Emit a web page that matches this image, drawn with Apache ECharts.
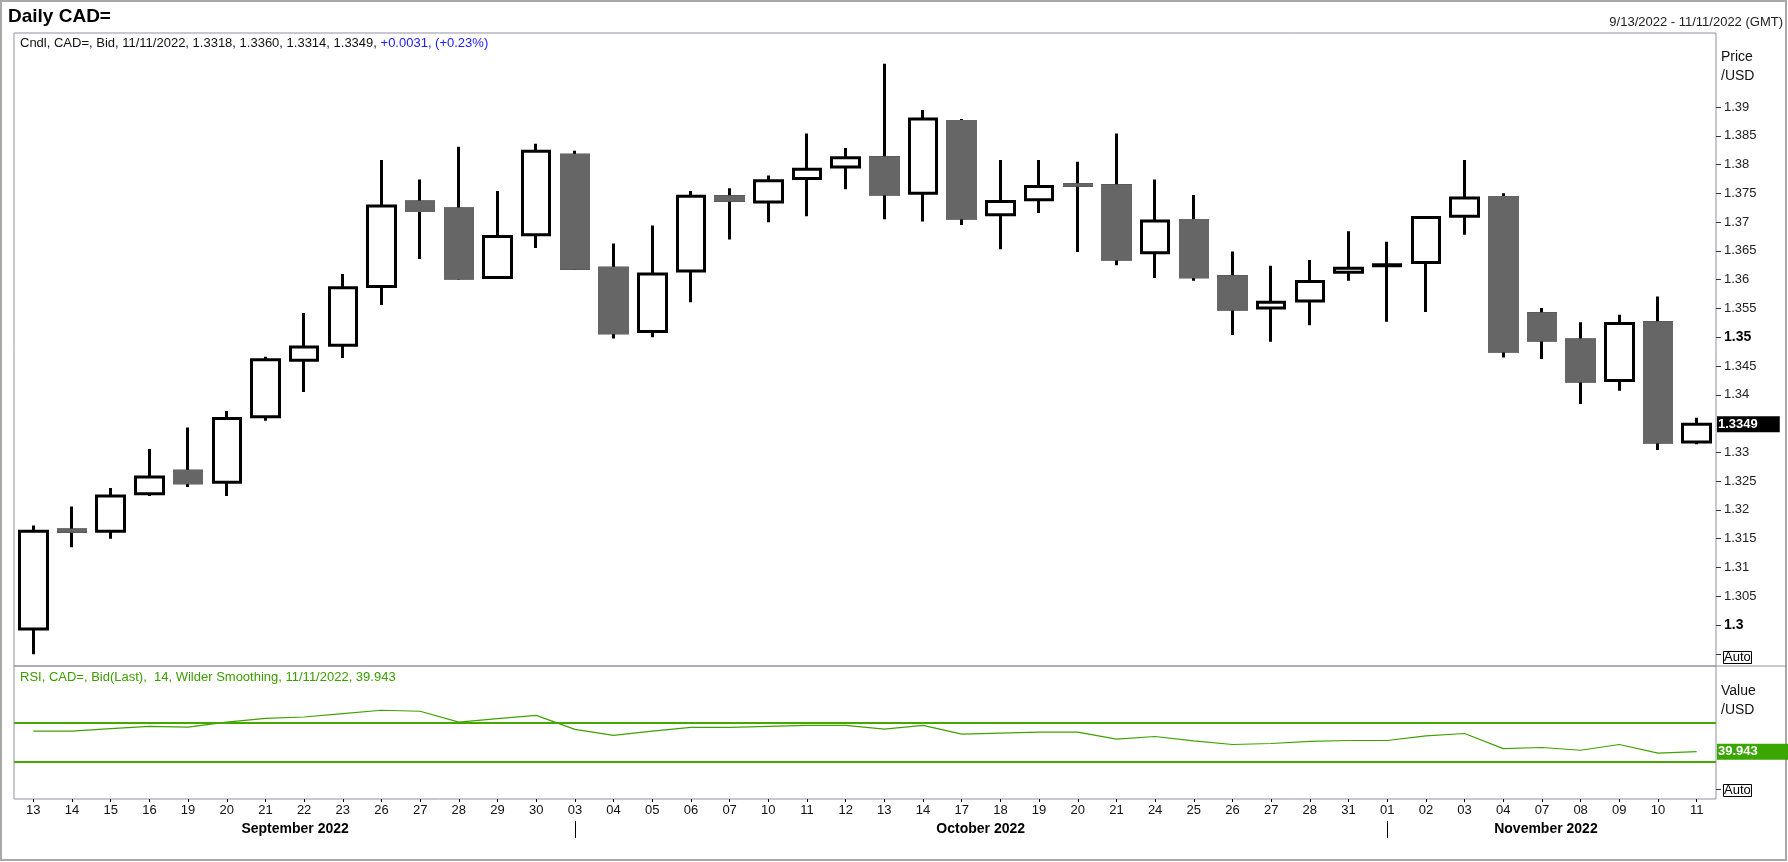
<!DOCTYPE html>
<html>
<head>
<meta charset="utf-8">
<script src="https://cdn.jsdelivr.net/npm/echarts@6/dist/echarts.min.js"></script>
<style>
html,body{margin:0;padding:0;background:#fff;}
#chart{width:1788px;height:862px;}
</style>
</head>
<body>
<div id="chart"></div>
<script>
const dates = ['2022-09-13','2022-09-14','2022-09-15','2022-09-16','2022-09-19','2022-09-20','2022-09-21','2022-09-22','2022-09-23','2022-09-26','2022-09-27','2022-09-28','2022-09-29','2022-09-30',
  '2022-10-03','2022-10-04','2022-10-05','2022-10-06','2022-10-07','2022-10-10','2022-10-11','2022-10-12','2022-10-13','2022-10-14','2022-10-17','2022-10-18','2022-10-19','2022-10-20','2022-10-21','2022-10-24','2022-10-25','2022-10-26','2022-10-27','2022-10-28','2022-10-31',
  '2022-11-01','2022-11-02','2022-11-03','2022-11-04','2022-11-07','2022-11-08','2022-11-09','2022-11-10','2022-11-11'];
const opens  = [1.2993,1.3165,1.3163,1.3228,1.3267,1.3248,1.3362,1.3460,1.3486,1.3588,1.3735,1.3723,1.3604,1.3678,
  1.3816,1.3620,1.3510,1.3615,1.3744,1.3735,1.3776,1.3796,1.3812,1.3750,1.3875,1.3713,1.3739,1.3765,1.3763,1.3647,1.3703,1.3605,1.3551,1.3563,1.3613,
  1.3624,1.3630,1.3710,1.3743,1.3541,1.3495,1.3425,1.3525,1.3318];
const highs  = [1.3173,1.3206,1.3238,1.3306,1.3343,1.3372,1.3466,1.3542,1.3610,1.3808,1.3774,1.3831,1.3754,1.3836,
  1.3824,1.3663,1.3694,1.3754,1.3759,1.3781,1.3854,1.3829,1.3975,1.3895,1.3879,1.3808,1.3808,1.3805,1.3854,1.3774,1.3747,1.3649,1.3624,1.3634,1.3684,
  1.3666,1.3710,1.3808,1.3750,1.3551,1.3526,1.3539,1.3571,1.3360];
const lows   = [1.2949,1.3135,1.3150,1.3224,1.3240,1.3224,1.3355,1.3405,1.3464,1.3556,1.3636,1.3600,1.3602,1.3655,
  1.3617,1.3498,1.3500,1.3561,1.3670,1.3700,1.3710,1.3757,1.3705,1.3701,1.3695,1.3653,1.3716,1.3648,1.3625,1.3603,1.3598,1.3504,1.3492,1.3521,1.3598,
  1.3527,1.3544,1.3678,1.3465,1.3462,1.3384,1.3407,1.3304,1.3314];
const closes = [1.3163,1.3163,1.3224,1.3257,1.3247,1.3359,1.3461,1.3483,1.3586,1.3728,1.3720,1.3603,1.3675,1.3823,
  1.3620,1.3508,1.3610,1.3745,1.3738,1.3772,1.3792,1.3812,1.3749,1.3879,1.3707,1.3736,1.3762,1.3764,1.3636,1.3702,1.3605,1.3549,1.3561,1.3597,1.3620,
  1.3626,1.3708,1.3742,1.3476,1.3495,1.3424,1.3524,1.3318,1.3349];
const rsiValues = [61.0,61.0,63.5,65.9,65.2,70.3,74.1,75.5,79.0,82.4,81.4,70.3,73.8,77.2,
  62.8,56.6,61.0,64.8,64.8,65.9,66.9,66.9,63.1,66.9,57.9,59.0,60.0,60.0,52.8,55.5,51.1,47.3,48.3,50.4,51.4,
  51.4,56.2,58.6,43.1,44.2,41.4,47.3,38.4,39.943];
const priceTicks = [1.3,1.305,1.31,1.315,1.32,1.325,1.33,1.34,1.345,1.35,1.355,1.36,1.365,1.37,1.375,1.38,1.385,1.39];
const rsiLevels = [70, 30];
const monthNames = ['September 2022','October 2022','November 2022'];
const monthLabelIdx = [7, 24, 39];

const n = dates.length;
const lastO = opens[n-1], lastH = highs[n-1], lastL = lows[n-1], lastC = closes[n-1];
const chg = lastC - closes[n-2];
const pct = chg / closes[n-2] * 100;
const fmtDate = d => d.slice(5,7).replace(/^0/,'') + '/' + d.slice(8) + '/' + d.slice(0,4);
const lastDate = fmtDate(dates[n-1]);
const firstDate = fmtDate(dates[0]);
const sign = v => (v >= 0 ? '+' : '');
const legendText = '{k|Cndl, CAD=, Bid, ' + lastDate + ', ' + lastO.toFixed(4) + ', ' + lastH.toFixed(4) + ', ' +
  lastL.toFixed(4) + ', ' + lastC.toFixed(4) + ', }{b|' + sign(chg) + chg.toFixed(4) + ', (' + sign(pct) + pct.toFixed(2) + '%)}';
const lastRsi = rsiValues[n-1];
const rsiText = 'RSI, CAD=, Bid(Last),  14, Wilder Smoothing, ' + lastDate + ', ' + lastRsi.toFixed(3);

const ohlc = dates.map((d, i) => [opens[i], closes[i], lows[i], highs[i]]);
const downBodies = [];
dates.forEach((d, i) => {
  if (closes[i] < opens[i]) downBodies.push([d, opens[i], closes[i], closes[i], opens[i]]);
});
const monthStart = dates.map((d, i) => i > 0 && d.slice(5,7) !== dates[i-1].slice(5,7));

const FONT = '"Liberation Sans", Arial, sans-serif';
const BORDER = '#9391a4';
const GREEN = '#3fa200';
const P_MIN = 1.29288, P_MAX = 1.40286;
const R_MIN = -8.6, R_MAX = 127.8;

const chart = echarts.init(document.getElementById('chart'), null, {renderer: 'canvas'});
chart.setOption({
  animation: false,
  backgroundColor: '#ffffff',
  textStyle: {fontFamily: FONT},
  title: [
    {text: 'Daily CAD=', left: 8, top: 6, padding: 0,
      textStyle: {fontSize: 19, lineHeight: 22, fontWeight: 'bold', color: '#000', fontFamily: FONT}},
    {text: firstDate + ' - ' + lastDate + ' (GMT)', right: 5, top: 14, padding: 0,
      textStyle: {fontSize: 13, lineHeight: 16, fontWeight: 'normal', color: '#222', fontFamily: FONT}},
    {text: legendText, left: 20, top: 35, padding: 0,
      textStyle: {fontSize: 13, lineHeight: 16, fontWeight: 'normal', fontFamily: FONT,
        rich: {k: {color: '#111', fontSize: 13, fontFamily: FONT}, b: {color: '#2020ff', fontSize: 13, fontFamily: FONT}}}},
    {text: rsiText, left: 20, top: 669, padding: 0,
      textStyle: {fontSize: 13, lineHeight: 16, fontWeight: 'normal', color: '#3c9d00', fontFamily: FONT}},
    {text: 'Price\n/USD', left: 1721, top: 48, padding: 0,
      textStyle: {fontSize: 14, lineHeight: 19, fontWeight: 'normal', color: '#111', fontFamily: FONT}},
    {text: 'Value\n/USD', left: 1721, top: 682, padding: 0,
      textStyle: {fontSize: 14, lineHeight: 19, fontWeight: 'normal', color: '#111', fontFamily: FONT}},
    {text: 'Auto', left: 1723, top: 651, padding: [0, 1], borderWidth: 1, borderColor: '#000',
      textStyle: {fontSize: 13, lineHeight: 13, fontWeight: 'normal', color: '#000', fontFamily: FONT}},
    {text: 'Auto', left: 1723, top: 784, padding: [0, 1], borderWidth: 1, borderColor: '#000',
      textStyle: {fontSize: 13, lineHeight: 13, fontWeight: 'normal', color: '#000', fontFamily: FONT}}
  ],
  graphic: [
    {type: 'rect', silent: true, shape: {x: 1, y: 1, width: 1785, height: 859},
      style: {fill: 'none', stroke: '#a8a8a8', lineWidth: 2}},
    {type: 'line', silent: true, shape: {x1: 1716, y1: 666, x2: 1787, y2: 666},
      style: {stroke: BORDER, lineWidth: 1}}
  ],
  grid: [
    {left: 14, right: 72, top: 33, height: 633, show: true, borderColor: BORDER, borderWidth: 1, outerBoundsMode: 'none'},
    {left: 14, right: 72, top: 666, height: 133, show: true, borderColor: BORDER, borderWidth: 1, outerBoundsMode: 'none'}
  ],
  xAxis: [
    {type: 'category', gridIndex: 0, data: dates, show: false, axisLine: {onZero: false}},
    {type: 'category', gridIndex: 1, data: dates, position: 'bottom',
      axisLine: {show: false, onZero: false}, splitLine: {show: false},
      axisTick: {show: true, inside: false, alignWithLabel: true, interval: 0, length: 3, lineStyle: {color: '#000', width: 1}},
      axisLabel: {interval: 0, margin: 5, fontSize: 13, color: '#111', fontFamily: FONT,
        formatter: v => v.slice(8)}},
    {type: 'category', gridIndex: 1, data: dates, position: 'bottom', offset: 22,
      axisLine: {show: false, onZero: false}, splitLine: {show: false},
      axisTick: {show: true, inside: false, alignWithLabel: true, length: 17, interval: (i) => monthStart[i],
        lineStyle: {color: '#000', width: 1}},
      axisLabel: {margin: 1, interval: (i) => monthLabelIdx.indexOf(i) >= 0,
        formatter: (v, i) => {
          const k = monthLabelIdx.indexOf(i);
          return k >= 0 ? '{m' + k + '|' + monthNames[k] + '}' : '';
        },
        rich: {
          m0: {fontSize: 14, fontWeight: 'bold', color: '#000', fontFamily: FONT, padding: [0, 18, 0, 0]},
          m1: {fontSize: 14, fontWeight: 'bold', color: '#000', fontFamily: FONT, padding: [0, 0, 0, 38]},
          m2: {fontSize: 14, fontWeight: 'bold', color: '#000', fontFamily: FONT, padding: [0, 0, 0, 8]}
        }}}
  ],
  yAxis: [
    {type: 'value', gridIndex: 0, position: 'right', min: P_MIN, max: P_MAX,
      splitLine: {show: false}, axisLine: {show: false, onZero: false},
      axisTick: {show: true, length: 5, lineStyle: {color: '#333'}, customValues: priceTicks.concat([1.295])},
      axisLabel: {customValues: priceTicks, margin: 8, fontSize: 13, color: '#222', fontFamily: FONT,
        formatter: v => {
          const s = String(parseFloat(v.toFixed(4)));
          return Math.abs(v * 20 - Math.round(v * 20)) < 1e-6 ? '{b|' + s + '}' : s;
        },
        rich: {b: {fontSize: 14, fontWeight: 'bold', color: '#000', fontFamily: FONT}}}},
    {type: 'value', gridIndex: 1, position: 'right', min: R_MIN, max: R_MAX,
      splitLine: {show: false}, axisLine: {show: false, onZero: false},
      axisTick: {show: true, length: 5, lineStyle: {color: '#333'}, customValues: [1]},
      axisLabel: {show: true, customValues: [lastRsi], margin: 1, formatter: v => v.toFixed(3),
        backgroundColor: '#3aa600', color: '#fff', fontWeight: 'bold', fontSize: 13, lineHeight: 13,
        fontFamily: FONT, padding: [2, 32, 1, 1]}},
    {type: 'value', gridIndex: 0, position: 'right', min: P_MIN, max: P_MAX,
      splitLine: {show: false}, axisLine: {show: false, onZero: false}, axisTick: {show: false},
      axisLabel: {show: true, customValues: [lastC], margin: 1, formatter: v => v.toFixed(4),
        backgroundColor: '#000', color: '#fff', fontWeight: 'bold', fontSize: 13, lineHeight: 13,
        fontFamily: FONT, padding: [2, 22, 1, 1]}}
  ],
  series: [
    {type: 'candlestick', name: 'CAD=', xAxisIndex: 0, yAxisIndex: 0, data: ohlc, barWidth: 28,
      itemStyle: {color: '#ffffff', color0: '#666666', borderColor: '#000000', borderColor0: '#000000', borderWidth: 3},
      emphasis: {disabled: true}},
    {type: 'candlestick', name: 'down', xAxisIndex: 0, yAxisIndex: 0, data: downBodies, barWidth: 28,
      encode: {x: 0, y: [1, 2, 3, 4]},
      itemStyle: {color: '#666666', color0: '#666666', borderColor: '#666666', borderColor0: '#666666', borderWidth: 3},
      emphasis: {disabled: true}},
    {type: 'line', name: 'RSI', xAxisIndex: 1, yAxisIndex: 1, data: rsiValues, symbol: 'none',
      lineStyle: {color: GREEN, width: 1.2}, emphasis: {disabled: true},
      markLine: {silent: true, symbol: 'none', animation: false, label: {show: false},
        lineStyle: {color: '#44a800', width: 2, type: 'solid'},
        data: rsiLevels.map(v => ({yAxis: v}))}}
  ]
});
</script>
</body>
</html>
